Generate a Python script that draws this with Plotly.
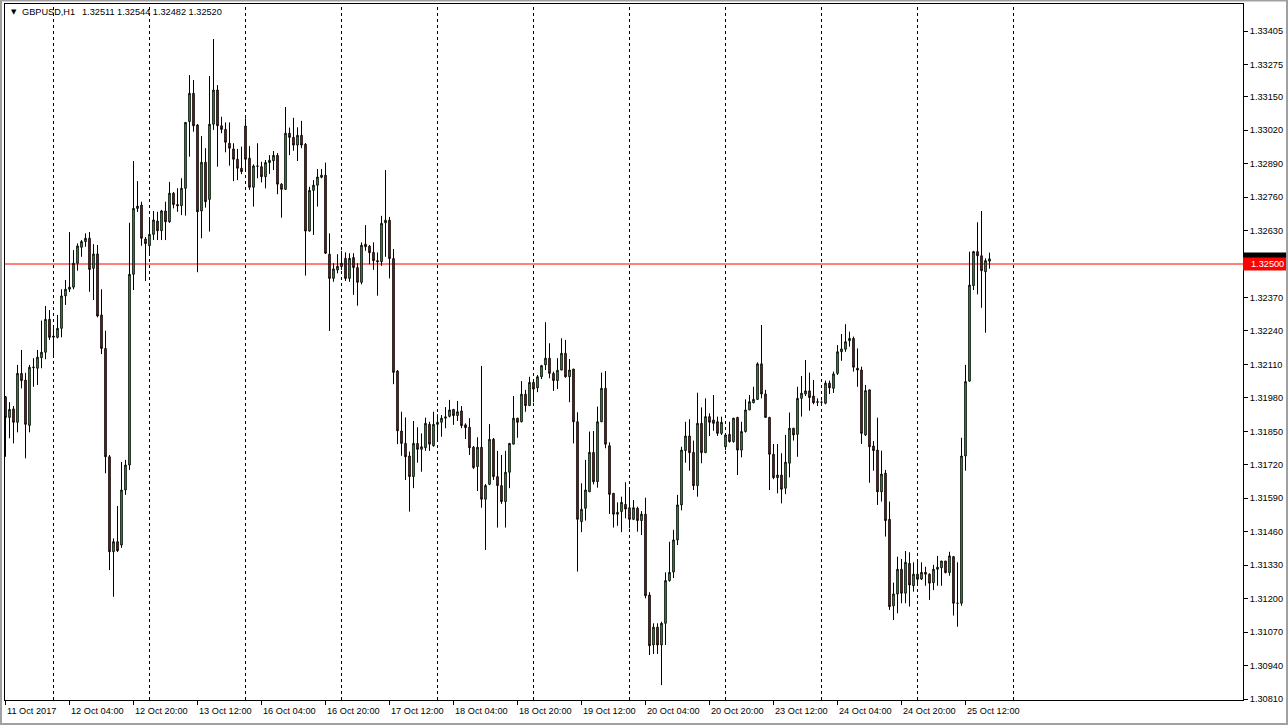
import plotly.graph_objects as go

# ---------------- data (GBPUSD H1, 11 Oct 2017 12:00 -> 25 Oct 2017 18:00) ----------------
open_ = [1.31984,1.31904,1.31937,1.31885,1.32075,1.32049,1.31873,1.32097,1.32095,1.32136,
         1.32157,1.32285,1.32220,1.32215,1.32250,1.32376,1.32402,1.32410,1.32503,1.32565,
         1.32587,1.32600,1.32483,1.32539,1.32302,1.32172,1.31751,1.31382,1.31421,1.31408,
         1.31622,1.31719,1.32460,1.32716,1.32729,1.32597,1.32571,1.32615,1.32667,1.32629,
         1.32706,1.32664,1.32775,1.32731,1.32726,1.32794,1.33053,1.33163,1.33040,1.32706,
         1.32895,1.32751,1.33043,1.33176,1.33037,1.33023,1.32969,1.32947,1.32907,1.32872,
         1.33036,1.32911,1.32798,1.32881,1.32878,1.32839,1.32894,1.32901,1.32922,1.32810,
         1.32790,1.33008,1.32992,1.32962,1.33000,1.32965,1.32628,1.32786,1.32806,1.32837,
         1.32845,1.32538,1.32444,1.32477,1.32490,1.32522,1.32444,1.32525,1.32486,1.32429,
         1.32577,1.32569,1.32545,1.32513,1.32509,1.32660,1.32670,1.32521,1.32084,1.31851,
         1.31803,1.31754,1.31674,1.31803,1.31780,1.31786,1.31877,1.31794,1.31877,1.31885,
         1.31901,1.31908,1.31935,1.31911,1.31929,1.31875,1.31866,1.31788,1.31713,1.31788,
         1.31586,1.31644,1.31819,1.31674,1.31639,1.31577,1.31691,1.31800,1.31901,1.31887,
         1.31994,1.31950,1.32040,1.32019,1.32062,1.32108,1.32134,1.32075,1.32047,1.32088,
         1.32153,1.32062,1.32092,1.31887,1.31499,1.31551,1.31615,1.31768,1.31654,1.31887,
         1.32017,1.31794,1.31609,1.31528,1.31538,1.31566,1.31553,1.31508,1.31551,1.31503,
         1.31528,1.31214,1.31020,1.31089,1.31020,1.31104,1.31270,1.31303,1.31428,1.31564,
         1.31775,1.31832,1.31768,1.31639,1.31881,1.31767,1.31907,1.31894,1.31887,1.31842,
         1.31790,1.31838,1.31810,1.31904,1.31777,1.31849,1.31933,1.31961,1.31974,1.32112,
         1.31995,1.31904,1.31761,1.31670,1.31680,1.31629,1.31726,1.31862,1.31838,1.31978,
         1.31995,1.32007,1.31987,1.31965,1.31963,1.31959,1.32037,1.32017,1.32075,1.32159,
         1.32169,1.32202,1.32211,1.32095,1.32088,1.31836,1.32011,1.31793,1.31777,1.31615,
         1.31687,1.31508,1.31172,1.31218,1.31314,1.31221,1.31337,1.31250,1.31295,1.31276,
         1.31302,1.31295,1.31262,1.31314,1.31320,1.31346,1.31301,1.31363,1.31182,1.31182,
         1.31754,1.32045,1.32416,1.32548,1.32532,1.32470,1.32511]
high = [1.31987,1.31963,1.31948,1.32108,1.32166,1.32077,1.32108,1.32134,1.32166,1.32280,
        1.32337,1.32321,1.32251,1.32302,1.32402,1.32438,1.32624,1.32554,1.32580,1.32593,
        1.32619,1.32624,1.32577,1.32574,1.32402,1.32241,1.31758,1.31434,1.31560,1.31731,
        1.31739,1.32660,1.32900,1.32822,1.32742,1.32605,1.32674,1.32706,1.32703,1.32710,
        1.32742,1.32819,1.32780,1.32794,1.32833,1.33050,1.33234,1.33215,1.33044,1.32997,
        1.32950,1.33230,1.33374,1.33195,1.33072,1.33050,1.33050,1.32969,1.32947,1.32956,
        1.33066,1.32958,1.32887,1.32969,1.32897,1.32904,1.32923,1.32939,1.32931,1.32814,
        1.33110,1.33030,1.33068,1.33031,1.33056,1.32970,1.32800,1.32826,1.32869,1.32869,
        1.32894,1.32619,1.32503,1.32538,1.32551,1.32545,1.32542,1.32542,1.32503,1.32584,
        1.32651,1.32574,1.32584,1.32545,1.32687,1.32865,1.32683,1.32558,1.32088,1.31926,
        1.31904,1.31771,1.31890,1.31866,1.31842,1.31903,1.31887,1.31926,1.31916,1.31913,
        1.31944,1.31972,1.31937,1.31968,1.31948,1.31881,1.31901,1.31793,1.31827,1.32104,
        1.31645,1.31878,1.31824,1.31774,1.31758,1.31774,1.31804,1.31987,1.31902,1.32045,
        1.32011,1.32062,1.32049,1.32069,1.32108,1.32274,1.32192,1.32082,1.32134,1.32211,
        1.32205,1.32131,1.32092,1.31924,1.31648,1.31739,1.31849,1.31851,1.31946,1.32078,
        1.32084,1.31807,1.31610,1.31574,1.31596,1.31652,1.31622,1.31583,1.31557,1.31540,
        1.31592,1.31225,1.31104,1.31104,1.31110,1.31302,1.31421,1.31467,1.31603,1.31790,
        1.31887,1.31897,1.31814,1.32000,1.31943,1.31978,1.31920,1.31991,1.31907,1.31907,
        1.31842,1.31887,1.31902,1.31906,1.31887,1.31974,1.31991,1.32023,1.32118,1.32263,
        1.32011,1.31906,1.31801,1.31801,1.31765,1.31836,1.31923,1.31863,1.32023,1.32065,
        1.32127,1.32078,1.32049,1.31978,1.31970,1.32047,1.32047,1.32082,1.32185,1.32228,
        1.32266,1.32237,1.32218,1.32172,1.32101,1.32030,1.32011,1.31812,1.31903,1.31775,
        1.31700,1.31577,1.31262,1.31363,1.31354,1.31385,1.31380,1.31341,1.31342,1.31341,
        1.31324,1.31298,1.31331,1.31366,1.31346,1.31346,1.31382,1.31366,1.31341,1.31825,
        1.32108,1.32548,1.32551,1.32662,1.32706,1.32522,1.32544]
low = [1.31751,1.31823,1.31803,1.31846,1.32017,1.31745,1.31846,1.32023,1.32030,1.32095,
       1.32130,1.32205,1.32140,1.32211,1.32215,1.32341,1.32391,1.32402,1.32474,1.32528,
       1.32567,1.32392,1.32360,1.32293,1.32150,1.31687,1.31311,1.31207,1.31381,1.31397,
       1.31603,1.31700,1.32399,1.32702,1.32571,1.32434,1.32542,1.32593,1.32593,1.32593,
       1.32593,1.32660,1.32716,1.32703,1.32690,1.32688,1.32917,1.33014,1.32468,1.32600,
       1.32719,1.32626,1.33021,1.32878,1.33008,1.32934,1.32882,1.32822,1.32826,1.32849,
       1.32861,1.32788,1.32723,1.32833,1.32817,1.32794,1.32850,1.32865,1.32771,1.32680,
       1.32788,1.32923,1.32940,1.32900,1.32950,1.32455,1.32626,1.32613,1.32723,1.32833,
       1.32539,1.32240,1.32431,1.32464,1.32477,1.32434,1.32431,1.32380,1.32338,1.32421,
       1.32551,1.32499,1.32477,1.32377,1.32493,1.32528,1.32444,1.32033,1.31800,1.31755,
       1.31661,1.31538,1.31629,1.31728,1.31693,1.31774,1.31774,1.31790,1.31820,1.31829,
       1.31862,1.31904,1.31875,1.31890,1.31862,1.31820,1.31758,1.31704,1.31618,1.31553,
       1.31389,1.31641,1.31661,1.31476,1.31568,1.31476,1.31629,1.31800,1.31825,1.31885,
       1.31926,1.31950,1.31963,1.32002,1.32053,1.32088,1.32056,1.32007,1.32014,1.32088,
       1.32058,1.31963,1.31803,1.31305,1.31458,1.31503,1.31615,1.31644,1.31631,1.31887,
       1.31784,1.31529,1.31476,1.31483,1.31458,1.31512,1.31473,1.31505,1.31460,1.31447,
       1.31201,1.30981,1.30985,1.30985,1.30864,1.31020,1.31266,1.31280,1.31408,1.31543,
       1.31728,1.31697,1.31622,1.31596,1.31726,1.31767,1.31832,1.31852,1.31832,1.31836,
       1.31777,1.31806,1.31806,1.31680,1.31749,1.31845,1.31933,1.31959,1.31972,1.31978,
       1.31904,1.31622,1.31664,1.31609,1.31570,1.31606,1.31671,1.31814,1.31751,1.31907,
       1.31987,1.31930,1.31955,1.31948,1.31955,1.31955,1.31995,1.31999,1.32069,1.32124,
       1.32159,1.32179,1.32082,1.32023,1.31801,1.31832,1.31650,1.31697,1.31564,1.31577,
       1.31441,1.31156,1.31117,1.31143,1.31182,1.31182,1.31169,1.31227,1.31253,1.31272,
       1.31250,1.31195,1.31233,1.31250,1.31250,1.31298,1.31289,1.31134,1.31091,1.31172,
       1.31697,1.32043,1.32399,1.32382,1.32330,1.32233,1.32482]
close = [1.31904,1.31935,1.31885,1.32075,1.32047,1.31877,1.32099,1.32099,1.32138,1.32157,
         1.32285,1.32215,1.32216,1.32250,1.32376,1.32402,1.32410,1.32503,1.32570,1.32587,
         1.32600,1.32479,1.32539,1.32298,1.32172,1.31751,1.31382,1.31421,1.31386,1.31622,
         1.31719,1.32460,1.32716,1.32725,1.32600,1.32579,1.32615,1.32671,1.32629,1.32706,
         1.32664,1.32775,1.32731,1.32726,1.32794,1.33050,1.33163,1.33037,1.32703,1.32895,
         1.32742,1.33043,1.33176,1.33037,1.33023,1.32973,1.32950,1.32907,1.32872,1.32859,
         1.32907,1.32798,1.32881,1.32880,1.32839,1.32894,1.32903,1.32922,1.32810,1.32790,
         1.33008,1.32992,1.32962,1.33000,1.32962,1.32628,1.32786,1.32806,1.32838,1.32845,
         1.32542,1.32444,1.32481,1.32491,1.32503,1.32444,1.32522,1.32486,1.32429,1.32573,
         1.32567,1.32544,1.32513,1.32509,1.32658,1.32670,1.32521,1.32079,1.31852,1.31803,
         1.31751,1.31674,1.31803,1.31780,1.31790,1.31881,1.31800,1.31877,1.31885,1.31901,
         1.31906,1.31933,1.31911,1.31926,1.31872,1.31864,1.31786,1.31709,1.31788,1.31586,
         1.31639,1.31819,1.31674,1.31639,1.31577,1.31691,1.31803,1.31901,1.31885,1.31994,
         1.31950,1.32040,1.32014,1.32062,1.32105,1.32134,1.32075,1.32047,1.32087,1.32153,
         1.32062,1.32088,1.31887,1.31508,1.31547,1.31622,1.31768,1.31654,1.31887,1.32017,
         1.31800,1.31605,1.31528,1.31535,1.31574,1.31548,1.31508,1.31553,1.31503,1.31528,
         1.31211,1.31017,1.31089,1.31020,1.31104,1.31270,1.31302,1.31428,1.31564,1.31777,
         1.31832,1.31767,1.31639,1.31881,1.31767,1.31907,1.31885,1.31881,1.31842,1.31885,
         1.31836,1.31810,1.31901,1.31777,1.31849,1.31933,1.31965,1.31974,1.32112,1.31995,
         1.31904,1.31761,1.31670,1.31680,1.31625,1.31730,1.31862,1.31836,1.31978,1.31998,
         1.32007,1.31981,1.31961,1.31963,1.31963,1.32037,1.32019,1.32073,1.32159,1.32170,
         1.32198,1.32211,1.32099,1.32088,1.31842,1.32008,1.31790,1.31775,1.31615,1.31684,
         1.31503,1.31169,1.31218,1.31314,1.31221,1.31341,1.31253,1.31295,1.31275,1.31302,
         1.31295,1.31260,1.31314,1.31322,1.31346,1.31301,1.31366,1.31182,1.31182,1.31754,
         1.32043,1.32418,1.32548,1.32532,1.32474,1.32513,1.32520]

time_labels = ["11 Oct 2017", "12 Oct 04:00", "12 Oct 20:00", "13 Oct 12:00",
               "16 Oct 04:00", "16 Oct 20:00", "17 Oct 12:00", "18 Oct 04:00",
               "18 Oct 20:00", "19 Oct 12:00", "20 Oct 04:00", "20 Oct 20:00",
               "23 Oct 12:00", "24 Oct 04:00", "24 Oct 20:00", "25 Oct 12:00"]
time_label_bars = [0, 16, 32, 48, 64, 80, 96, 112, 128, 144, 160, 176, 192, 208, 224, 240]
day_start_bars = [12, 36, 60, 84, 108, 132, 156, 180, 204, 228, 252]

price_tick_text = ["1.30810", "1.30940", "1.31070", "1.31200", "1.31330", "1.31460",
                   "1.31590", "1.31720", "1.31850", "1.31980", "1.32110", "1.32240",
                   "1.32370", "1.32500", "1.32630", "1.32760", "1.32890", "1.33020",
                   "1.33150", "1.33275", "1.33405"]

symbol = "GBPUSD,H1"
bid_price = 1.32500
last_close = close[-1]

# ---------------- figure ----------------
bars = list(range(len(open_)))
FONT = "Liberation Sans"
FS = 9.2

fig = go.Figure(go.Candlestick(
    x=bars, open=open_, high=high, low=low, close=close,
    increasing=dict(fillcolor="#00ff00", line=dict(color="black", width=1)),
    decreasing=dict(fillcolor="#ff0000", line=dict(color="black", width=1)),
    whiskerwidth=0, hoverinfo="skip", showlegend=False,
))

tick_vals = [float(t) for t in price_tick_text]
shown = [(v, t) for v, t in zip(tick_vals, price_tick_text) if abs(v - bid_price) > 0.0002]

shapes = []
for d in day_start_bars:
    shapes.append(dict(type="line", xref="x", yref="paper", x0=d, x1=d, y0=0, y1=1,
                       line=dict(color="black", width=1, dash="3px,3px"), layer="below"))
shapes.append(dict(type="line", xref="paper", yref="y", x0=0, x1=1, y0=bid_price, y1=bid_price,
                   line=dict(color="#ff0000", width=1), layer="below"))
half = 0.00025
px_right = (1288 - 5) / 1238
shapes.append(dict(type="rect", xref="paper", yref="y", x0=1.0, x1=px_right,
                   y0=last_close - half, y1=last_close + half,
                   fillcolor="black", line=dict(width=0), layer="above"))
shapes.append(dict(type="rect", xref="paper", yref="y", x0=1.0, x1=px_right,
                   y0=bid_price - half, y1=bid_price + half,
                   fillcolor="#ff0000", line=dict(width=0), layer="above"))
# window border
shapes.append(dict(type="rect", xref="paper", yref="paper",
                   x0=-5 / 1238 + 0.0008, x1=(1288 - 5) / 1238 - 0.0008,
                   y0=-25 / 696 + 0.0015, y1=(700) / 696 - 0.0008,
                   line=dict(color="#a0a0a0", width=2), fillcolor="rgba(0,0,0,0)", layer="above"))

annotations = []
for b, t in zip(time_label_bars, time_labels):
    annotations.append(dict(x=b, xref="x", y=(700 - 711) / 696, yref="paper", text=t,
                            showarrow=False, xanchor="left", yanchor="middle", xshift=-1,
                            font=dict(family=FONT, size=FS, color="black")))
annotations.append(dict(x=(1249 - 5) / 1238, xref="paper", y=bid_price, yref="y",
                        text=f"{bid_price:.5f}", showarrow=False, xanchor="left", yanchor="middle",
                        font=dict(family=FONT, size=FS, color="white")))
annotations.append(dict(x=(9 - 5) / 1238, xref="paper", y=(700 - 12) / 696, yref="paper",
                        text="▼", showarrow=False, xanchor="left", yanchor="middle",
                        font=dict(family="DejaVu Sans", size=7, color="black")))
annotations.append(dict(x=(20 - 5) / 1238, xref="paper", y=(700 - 12) / 696, yref="paper",
                        text=symbol, showarrow=False, xanchor="left", yanchor="middle",
                        font=dict(family=FONT, size=FS, color="black")))
annotations.append(dict(x=(80 - 5) / 1238, xref="paper", y=(700 - 12) / 696, yref="paper",
                        text=" ".join(f"{v:.5f}" for v in (open_[-1], high[-1], low[-1], close[-1])),
                        showarrow=False, xanchor="left", yanchor="middle",
                        font=dict(family=FONT, size=FS, color="black")))

fig.update_layout(
    width=1288, height=725, autosize=False,
    margin=dict(l=5, r=45, t=4, b=25, autoexpand=False),
    paper_bgcolor="white", plot_bgcolor="white",
    showlegend=False, hovermode=False, boxgap=0.45,
    xaxis=dict(range=[-0.125, 309.375], showgrid=False, zeroline=False,
               showline=True, linecolor="black", linewidth=1, mirror=True,
               ticks="outside", ticklen=4, tickcolor="black", tickwidth=1,
               tickvals=time_label_bars, showticklabels=False,
               rangeslider=dict(visible=False), fixedrange=True),
    yaxis=dict(side="right", range=[1.308061, 1.335101], showgrid=False, zeroline=False,
               showline=True, linecolor="black", linewidth=1, mirror=True,
               ticks="outside", ticklen=4, tickcolor="black", tickwidth=1,
               tickvals=[v for v, _ in shown], ticktext=[t for _, t in shown],
               tickfont=dict(family=FONT, size=FS, color="black"), fixedrange=True),
    shapes=shapes, annotations=annotations,
)

fig.write_html(
    "out.html",
    config={"displayModeBar": False},
    post_script="document.body.style.margin='0';document.body.style.padding='0';"
                "document.body.style.overflow='hidden';",
)
